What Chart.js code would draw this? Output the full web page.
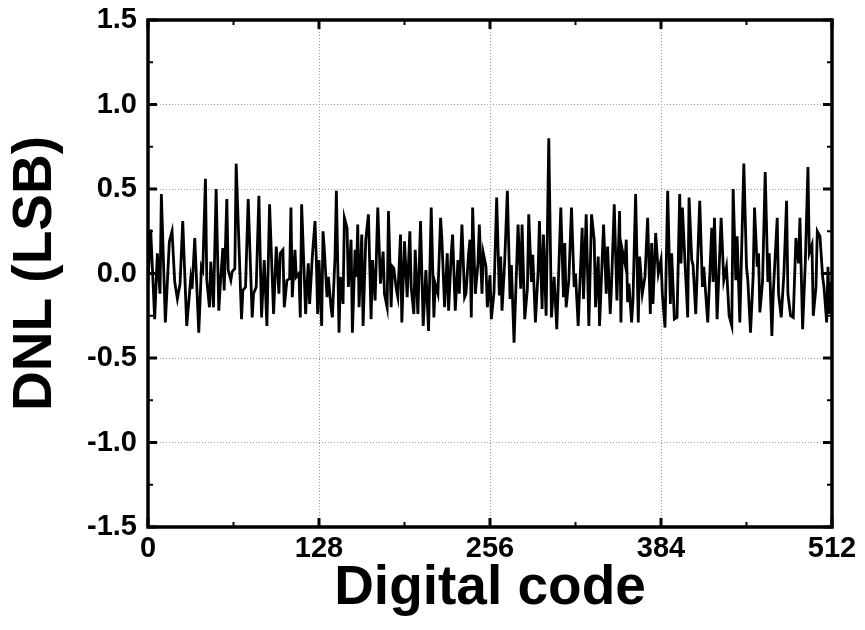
<!DOCTYPE html>
<html>
<head>
<meta charset="utf-8">
<script src="https://cdn.jsdelivr.net/npm/chart.js@4.4.1/dist/chart.umd.min.js"></script>
<style>
  html, body { margin: 0; padding: 0; background: #fff; }
  #wrap { width: 865px; height: 630px; }
</style>
</head>
<body>
<div id="wrap"><canvas id="dnl"></canvas></div>
<script>
// codes where the trace turns, and the DNL read at each of them
const codes = [0, 2, 5, 7, 9, 10, 13, 16, 18, 20, 22, 24, 26, 29, 32, 33, 35, 38, 40, 41,
  43, 44, 46, 47, 49, 51, 53, 54, 56, 57, 59, 60, 62, 63, 65, 66, 70, 71, 73, 75,
  78, 79, 81, 83, 85, 87, 89, 91, 94, 96, 98, 99, 101, 102, 104, 106, 107, 108, 110, 111,
  113, 114, 115, 118, 119, 120, 121, 123, 125, 126, 127, 128, 130, 131, 132, 134, 135, 137, 138, 140,
  141, 143, 144, 146, 147, 149, 150, 152, 153, 155, 156, 157, 158, 160, 161, 163, 165, 167, 168, 170,
  172, 174, 176, 177, 179, 180, 182, 183, 184, 186, 187, 189, 190, 192, 194, 196, 197, 199, 200, 202,
  204, 206, 208, 210, 212, 214, 215, 217, 219, 220, 222, 224, 225, 227, 228, 230, 232, 233, 235, 237,
  238, 240, 241, 242, 243, 245, 247, 248, 250, 251, 253, 254, 256, 257, 259, 261, 263, 264, 265, 267,
  269, 271, 272, 274, 277, 279, 280, 282, 284, 285, 287, 288, 290, 292, 293, 295, 296, 298, 300, 302,
  304, 306, 309, 311, 312, 313, 315, 317, 319, 320, 322, 325, 326, 328, 330, 332, 334, 335, 337, 338,
  341, 343, 344, 346, 347, 349, 351, 353, 354, 355, 357, 358, 359, 360, 362, 363, 365, 367, 368, 370,
  372, 374, 376, 377, 378, 380, 382, 384, 385, 387, 389, 391, 392, 394, 396, 398, 399, 400, 402, 404,
  405, 407, 408, 410, 413, 415, 416, 419, 422, 423, 424, 426, 429, 431, 433, 435, 437, 438, 440, 441,
  443, 446, 448, 449, 451, 453, 454, 456, 457, 458, 460, 462, 464, 465, 467, 468, 471, 472, 474, 476,
  478, 479, 481, 483, 485, 487, 488, 490, 492, 494, 495, 497, 498, 500, 501, 503, 505, 506, 508, 509,
  510, 511];
const dnl = [-0.05, 0.26, -0.27, 0.12, -0.12, 0.47, -0.29, 0.19, 0.25, -0.05, -0.15, -0.06, 0.31, -0.31, -0.03, -0.09, 0.21, -0.35, 0.04, 0.02,
  0.56, -0.04, -0.2, 0.07, -0.2, 0.5, -0.22, -0.08, 0.15, -0.1, 0.44, 0.02, -0.04, 0.01, 0.03, 0.65, -0.27, -0.1, -0.08, 0.44,
  -0.26, -0.12, -0.08, 0.46, -0.26, 0.08, -0.31, 0.41, -0.24, 0.16, -0.12, 0.12, 0.14, -0.2, -0.04, -0.03, 0.39, -0.14, 0.14, -0.02,
  0.0, -0.26, 0.41, -0.24, -0.07, 0.06, -0.18, 0.1, 0.31, 0.08, -0.24, 0.08, -0.31, 0.25, 0.14, -0.14, -0.02, -0.2, -0.26, 0.1,
  0.49, -0.35, -0.02, -0.18, 0.33, 0.27, -0.08, 0.2, -0.35, 0.14, -0.02, 0.29, -0.2, 0.23, -0.31, 0.2, 0.35, -0.27, 0.08, -0.16,
  0.39, -0.06, 0.13, -0.12, -0.2, 0.37, -0.2, 0.04, 0.03, -0.1, -0.14, 0.23, -0.29, 0.19, -0.14, 0.25, -0.08, -0.24, 0.14, -0.24,
  0.31, -0.31, 0.02, -0.34, 0.39, -0.26, -0.06, -0.12, 0.33, 0.2, -0.2, 0.12, -0.22, 0.12, 0.23, -0.22, 0.08, -0.12, 0.29, -0.14,
  -0.12, 0.12, 0.2, -0.26, 0.39, -0.12, 0.06, 0.29, -0.12, 0.12, 0.04, -0.2, -0.01, -0.27, -0.11, 0.45, -0.13, 0.1, -0.22, 0.07,
  0.49, -0.15, 0.05, -0.41, 0.29, -0.09, 0.29, -0.27, -0.09, 0.35, -0.05, 0.11, -0.29, 0.01, 0.31, -0.21, 0.23, -0.25, 0.8, -0.26,
  -0.02, -0.33, 0.39, -0.14, 0.18, -0.2, -0.04, 0.39, -0.08, 0, -0.31, 0.27, -0.15, 0.35, -0.31, 0.35, 0.2, -0.2, 0.1, -0.31,
  0.29, -0.12, 0.16, -0.24, -0.06, 0.41, -0.16, 0.37, -0.29, 0.14, 0.06, 0.2, -0.17, -0.06, -0.29, -0.16, 0.47, -0.29, 0.1, -0.12,
  -0.02, 0.33, -0.24, 0.18, -0.18, 0.24, 0, 0.08, -0.12, -0.32, 0.49, -0.18, 0.12, -0.27, -0.26, 0.47, 0.06, 0.39, 0.06, -0.26,
  0.45, 0.08, 0.05, -0.24, 0.43, -0.08, 0.04, -0.29, 0.27, -0.05, 0.33, -0.27, 0.33, -0.04, 0.04, -0.25, -0.31, 0.5, -0.04, 0.22,
  -0.29, 0.65, 0.04, -0.04, -0.35, -0.01, 0.39, 0.04, 0.12, -0.23, -0.05, 0.6, -0.05, 0.12, -0.37, -0.12, 0.33, -0.12, -0.26, 0,
  0.43, -0.12, -0.25, -0.26, 0.21, 0.06, 0.33, -0.33, 0.06, 0.63, 0.12, 0.17, -0.25, -0.08, 0.25, 0.22, -0.02, -0.08, -0.29, 0.04,
  -0.24, -0.05];
const xTicks = [0, 128, 256, 384, 512];
const yTicks = [-1.5, -1.0, -0.5, 0.0, 0.5, 1.0, 1.5];

const font = 'Liberation Sans, Arial, Helvetica, sans-serif';

// frame plus inward ticks on all four sides
const framePlugin = {
  id: 'frame',
  afterDraw(chart) {
    const { ctx, chartArea: a, scales } = chart;
    ctx.save();
    ctx.strokeStyle = '#000';
    ctx.lineCap = 'butt';
    const tick = (x1, y1, x2, y2, w) => {
      ctx.lineWidth = w;
      ctx.beginPath(); ctx.moveTo(x1, y1); ctx.lineTo(x2, y2); ctx.stroke();
    };
    for (let v = -1.5; v <= 1.5001; v += 0.25) {
      const y = scales.y.getPixelForValue(v);
      const major = Math.abs(v * 2 - Math.round(v * 2)) < 1e-6;
      const len = major ? 9 : 5;
      const w = major ? 3 : 2;
      tick(a.left, y, a.left + len, y, w);
      tick(a.right, y, a.right - len, y, w);
    }
    for (let v = 0; v <= 512; v += 64) {
      const x = scales.x.getPixelForValue(v);
      const major = v % 128 === 0;
      const len = major ? 9 : 5;
      const w = major ? 3 : 2;
      tick(x, a.bottom, x, a.bottom - len, w);
      tick(x, a.top, x, a.top + len, w);
    }
    ctx.lineWidth = 3.5;
    ctx.strokeRect(a.left, a.top, a.right - a.left, a.bottom - a.top);
    ctx.restore();
  }
};

const points = codes.map((c, i) => ({ x: c, y: dnl[i] }));

new Chart(document.getElementById('dnl'), {
  type: 'line',
  data: {
    datasets: [{
      data: points,
      borderColor: '#000',
      borderWidth: 2.8,
      pointRadius: 0,
      tension: 0,
      fill: false
    }]
  },
  options: {
    responsive: true,
    maintainAspectRatio: false,
    animation: false,
    layout: { padding: { top: 20, right: 33, left: 0, bottom: 0 } },
    plugins: { legend: { display: false }, tooltip: { enabled: false } },
    scales: {
      x: {
        type: 'linear',
        min: 0,
        max: 512,
        afterBuildTicks: s => { s.ticks = xTicks.map(v => ({ value: v })) },
        afterFit: s => { s.height = 103 },
        grid: { color: '#999', lineWidth: 1, drawTicks: false },
        border: { display: false, dash: [1, 2] },
        ticks: {
          color: '#000',
          padding: 5,
          maxRotation: 0,
          font: { family: font, size: 29, weight: 'bold' }
        },
        title: {
          display: true,
          text: 'Digital code',
          color: '#000',
          padding: { top: 0, bottom: 8 },
          font: { family: font, size: 55, weight: 'bold' }
        }
      },
      y: {
        min: -1.5,
        max: 1.5,
        afterBuildTicks: s => { s.ticks = yTicks.map(v => ({ value: v })) },
        afterFit: s => { s.width = 148; s.paddingTop = 0; s.paddingBottom = 0 },
        grid: { color: '#999', lineWidth: 1, drawTicks: false },
        border: { display: false, dash: [1, 2] },
        ticks: {
          color: '#000',
          padding: 11,
          callback: v => v.toFixed(1),
          font: { family: font, size: 29, weight: 'bold' }
        },
        title: {
          display: true,
          text: 'DNL (LSB)',
          color: '#000',
          padding: { top: 3, bottom: 0 },
          font: { family: font, size: 55, weight: 'bold' }
        }
      }
    }
  },
  plugins: [framePlugin]
});
</script>
</body>
</html>
